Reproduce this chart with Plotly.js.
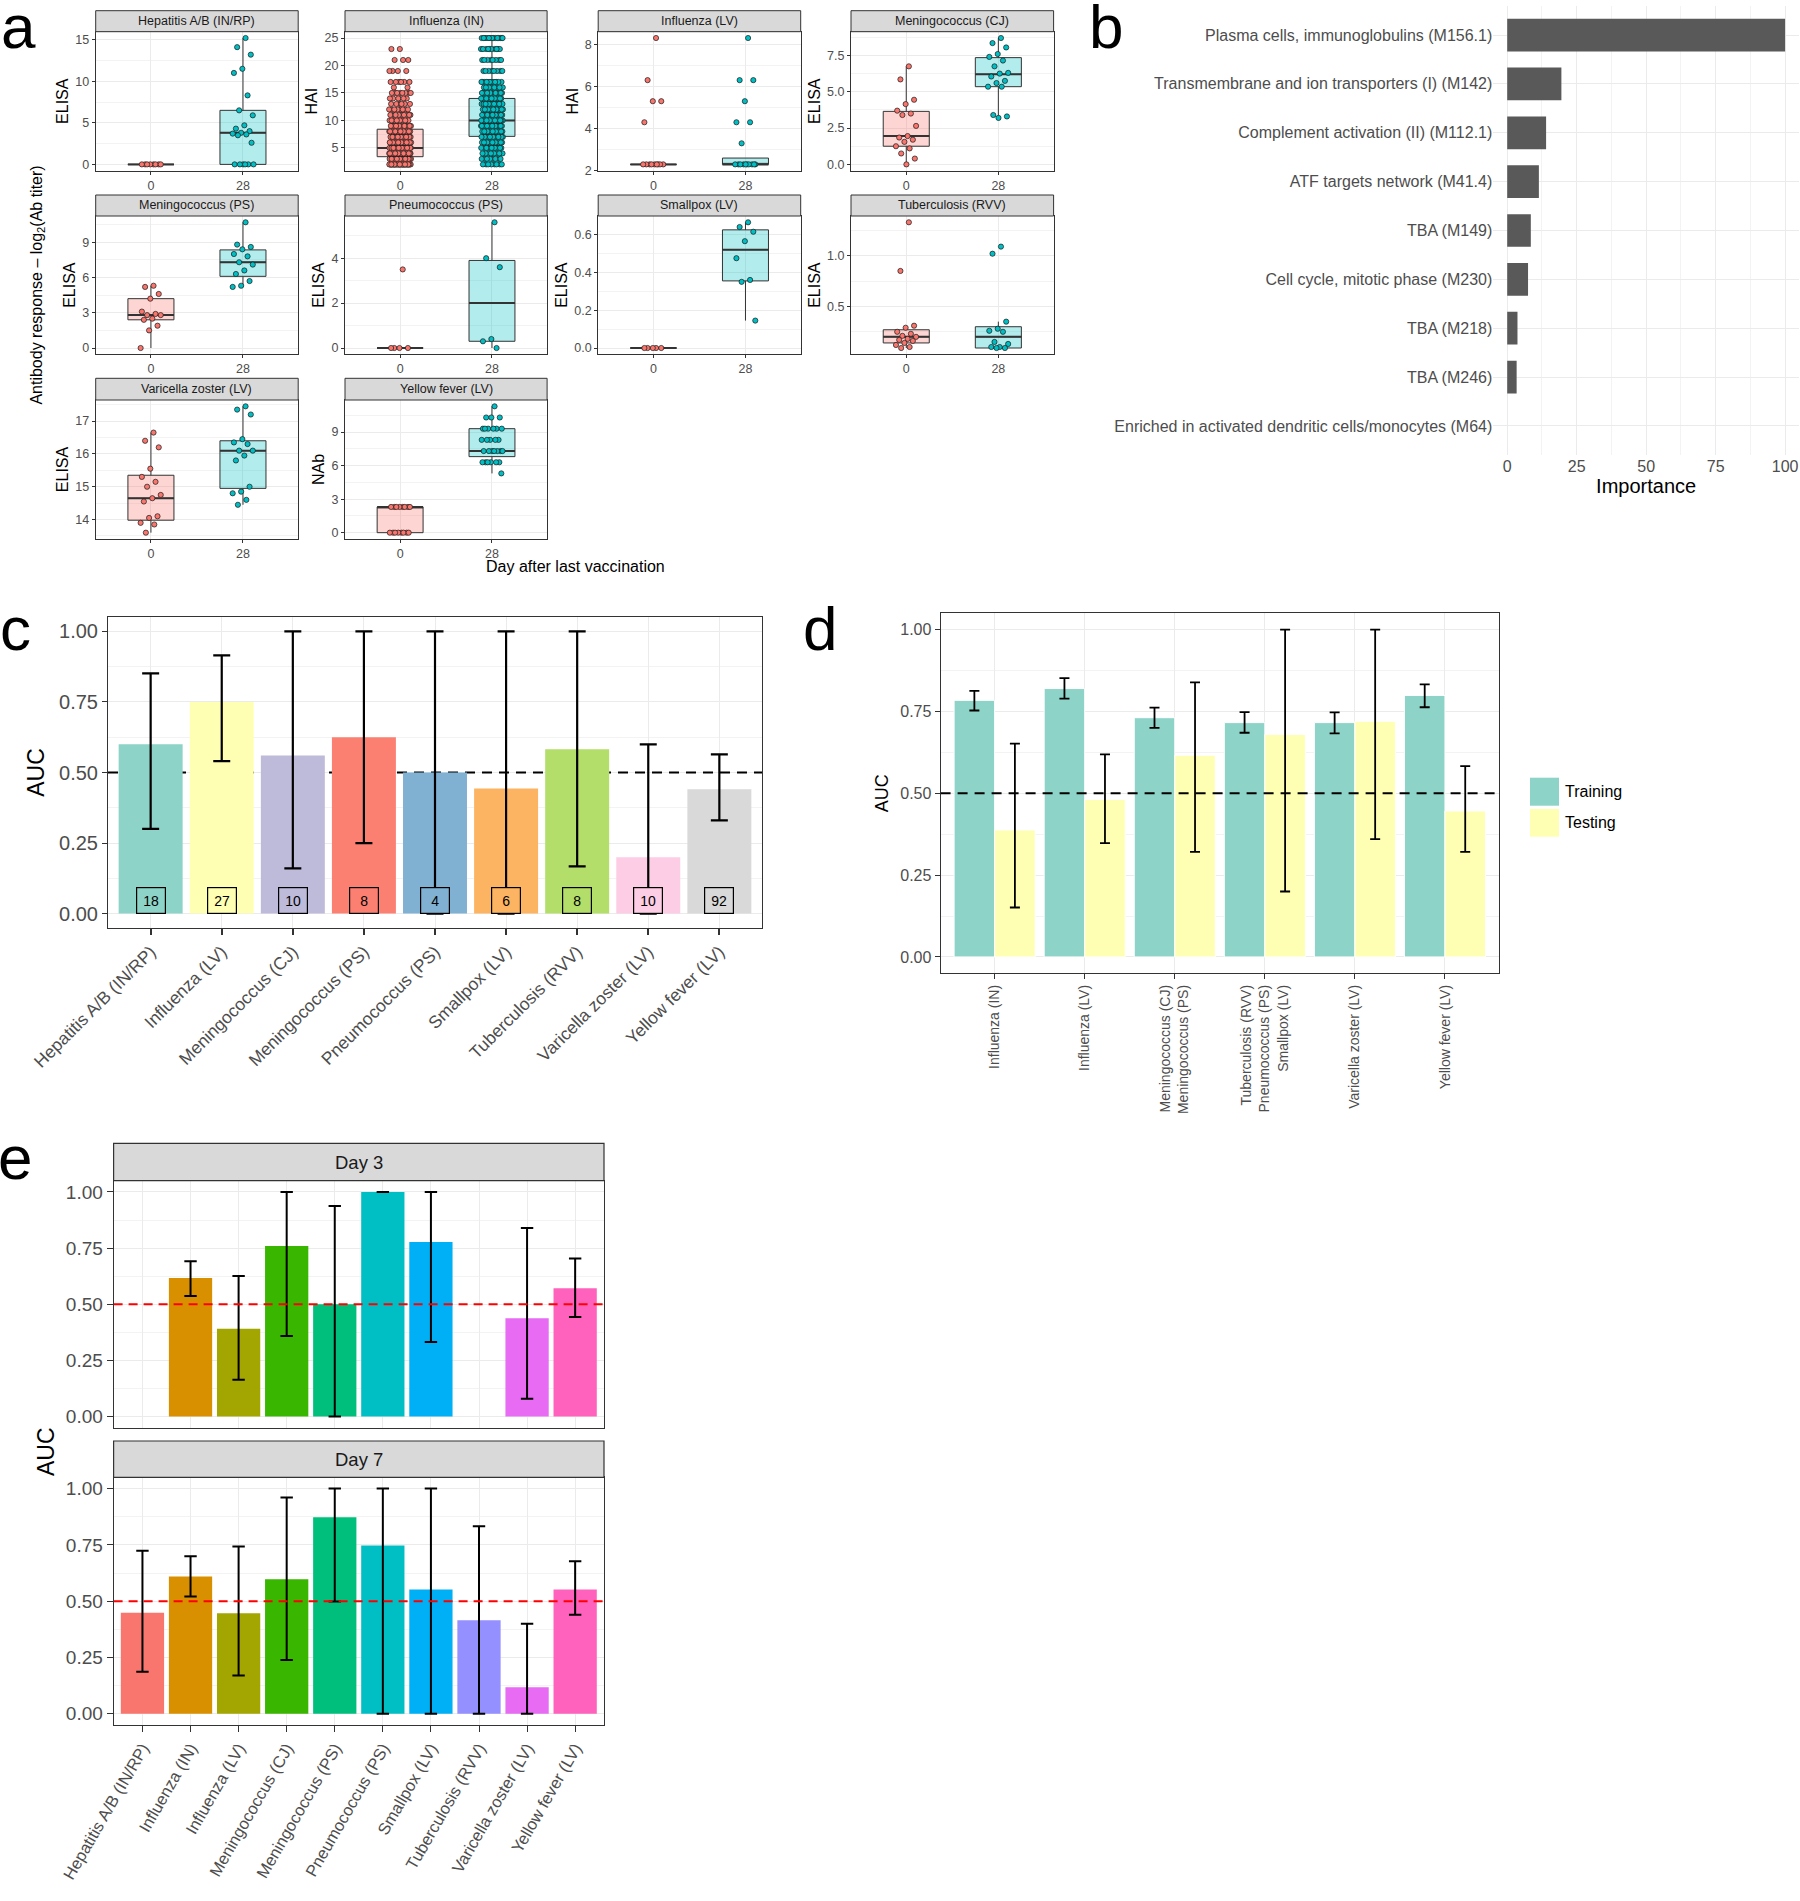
<!DOCTYPE html>
<html>
<head>
<meta charset="utf-8">
<script src="https://cdn.plot.ly/plotly-3.0.1.min.js"></script>
<style>body{margin:0;background:#fff}#chart{width:1800px;height:1901px}</style>
</head>
<body>
<div id="chart"></div>
<script>
// ================= DATA =================
// ---- panel a ----
const aPanels = ['Hepatitis A/B (IN/RP)', 'Influenza (IN)', 'Influenza (LV)', 'Meningococcus (CJ)',
  'Meningococcus (PS)', 'Pneumococcus (PS)', 'Smallpox (LV)', 'Tuberculosis (RVV)',
  'Varicella zoster (LV)', 'Yellow fever (LV)'];
const aAssay = ['ELISA', 'HAI', 'HAI', 'ELISA', 'ELISA', 'ELISA', 'ELISA', 'ELISA', 'ELISA', 'NAb'];
const aDayLabels = ['0', '28'];
// box stats: [lower whisker, q1, median, q3, upper whisker]
const aBox0 = [
  [0, 0, 0, 0, 0],
  [2, 3.4, 5, 8.4, 15],
  [2.3, 2.3, 2.3, 2.3, 2.3],
  [0, 1.25, 1.95, 3.65, 6.75],
  [0, 2.4, 2.8, 4.2, 5.3],
  [0, 0, 0, 0, 0],
  [0, 0, 0, 0, 0],
  [0.09, 0.14, 0.2, 0.27, 0.31],
  [13.6, 13.98, 14.65, 15.35, 16.65],
  [0, 0, 2.3, 2.3, 2.3]
];
const aBox28 = [
  [0, 0, 3.8, 6.5, 15.2],
  [2, 7.1, 10, 14, 25],
  [2.3, 2.3, 2.3, 2.6, 2.6],
  [3.2, 5.35, 6.2, 7.35, 8.7],
  [5.2, 6.1, 7.3, 8.35, 10.7],
  [0, 0.3, 2.0, 3.9, 5.6],
  [0.145, 0.355, 0.52, 0.625, 0.665],
  [0.09, 0.09, 0.2, 0.3, 0.35],
  [14.45, 14.95, 16.1, 16.4, 17.45],
  [5.3, 6.8, 7.3, 9.3, 11.3]
];
const hepD0 = [0, 0, 0, 0, 0, 0, 0, 0];
const hepD28 = [15.2, 14.1, 13.2, 11.5, 11.0, 8.3, 6.5, 5.9, 4.7, 4.3, 4.0, 3.8, 3.7, 3.6, 3.5, 2.6, 0, 0, 0, 0, 0, 0];
const fluINLevels = [2, 3, 4, 5, 6, 7, 8, 9, 10, 11, 12, 13, 14, 15, 16, 17, 19, 21, 23, 25];
const fluINCount0 = [40, 35, 30, 30, 22, 20, 18, 12, 12, 9, 8, 6, 5, 8, 2, 6, 4, 3, 2, 0];
const fluINCount28 = [8, 8, 10, 12, 14, 16, 18, 20, 20, 14, 14, 14, 14, 12, 8, 12, 8, 8, 10, 14];
const fluLV0 = [8.3, 6.3, 5.3, 5.3, 4.3, 2.3, 2.3, 2.3, 2.3, 2.3, 2.3, 2.3, 2.3, 2.3];
const fluLV28 = [8.3, 6.3, 6.3, 5.3, 4.3, 4.3, 3.3, 2.3, 2.3, 2.3, 2.3, 2.3, 2.3, 2.3, 2.3, 2.3, 2.3];
const menCJ0 = [6.75, 5.85, 4.45, 4.15, 3.7, 3.5, 3.4, 2.65, 1.95, 1.85, 1.7, 1.55, 1.25, 1.1, 0.75, 0.4, 0.0];
const menCJ28 = [8.7, 8.35, 8.05, 7.6, 7.4, 7.15, 6.75, 6.3, 6.25, 6.05, 5.75, 5.6, 5.35, 5.35, 3.4, 3.3, 3.2];
const menPS0 = [5.3, 5.2, 4.6, 4.2, 3.1, 2.9, 2.8, 2.8, 2.5, 2.4, 1.9, 1.5, 0];
const menPS28 = [10.7, 8.8, 8.6, 8.4, 8.0, 7.8, 7.3, 7.1, 6.6, 6.3, 5.7, 5.3, 5.2];
const pneuPS0 = [3.5, 0, 0, 0, 0];
const pneuPS28 = [5.6, 4.0, 3.6, 0.4, 0.3, 0];
const smallpox0 = [0, 0, 0, 0, 0];
const smallpox28 = [0.665, 0.64, 0.615, 0.565, 0.475, 0.36, 0.35, 0.145];
const tb0 = [1.33, 0.85, 0.31, 0.29, 0.25, 0.23, 0.21, 0.20, 0.18, 0.17, 0.16, 0.14, 0.12, 0.10, 0.09];
const tb28 = [1.09, 1.02, 0.35, 0.28, 0.26, 0.25, 0.15, 0.13, 0.10, 0.10, 0.09, 0.09];
const vz0 = [16.65, 16.4, 16.2, 15.55, 15.3, 15.15, 15.0, 14.75, 14.65, 14.55, 14.1, 14.05, 13.9, 13.85, 13.6];
const vz28 = [17.45, 17.35, 17.2, 16.45, 16.35, 16.3, 16.1, 16.1, 15.95, 15.8, 15.0, 14.85, 14.8, 14.6, 14.45];
const yf0 = [2.3, 2.3, 2.3, 2.3, 2.3, 2.3, 2.3, 2.3, 0, 0, 0, 0, 0, 0, 0, 0];
const yf28 = [11.3, 10.3, 10.3, 10.3, 9.3, 9.3, 9.3, 9.3, 9.3, 9.3, 8.3, 8.3, 8.3, 8.3, 8.3,
  7.3, 7.3, 7.3, 7.3, 7.3, 7.3, 7.3, 6.3, 6.3, 6.3, 6.3, 6.3, 6.3, 5.3];
const aDtick = [5, 5, 2, 2.5, 3, 2, 0.2, 0.5, 1, 3];
const aFmt = ['', '', '', '.1f', '', '', '.1f', '.1f', '', ''];

// ---- panel b ----
const bModules = ['Plasma cells, immunoglobulins (M156.1)', 'Transmembrane and ion transporters (I) (M142)',
  'Complement activation (II) (M112.1)', 'ATF targets network (M41.4)', 'TBA (M149)',
  'Cell cycle, mitotic phase (M230)', 'TBA (M218)', 'TBA (M246)',
  'Enriched in activated dendritic cells/monocytes (M64)'];
const bImportance = [100, 19.5, 14.0, 11.4, 8.5, 7.5, 3.7, 3.4, 0];

// ---- panel c ----
const cVaccines = ['Hepatitis A/B (IN/RP)', 'Influenza (LV)', 'Meningococcus (CJ)', 'Meningococcus (PS)',
  'Pneumococcus (PS)', 'Smallpox (LV)', 'Tuberculosis (RVV)', 'Varicella zoster (LV)', 'Yellow fever (LV)'];
const cAUC = [0.60, 0.75, 0.56, 0.625, 0.50, 0.443, 0.582, 0.20, 0.441];
const cUpper = [0.851, 0.915, 1.0, 1.0, 1.0, 1.0, 1.0, 0.60, 0.564];
const cLower = [0.30, 0.54, 0.16, 0.25, 0.0, 0.0, 0.167, 0.0, 0.33];
const cN = [18, 27, 10, 8, 4, 6, 8, 10, 92];
const cColors = ['#8DD3C7', '#FFFFB3', '#BEBADA', '#FB8072', '#80B1D3', '#FDB462', '#B3DE69', '#FCCDE5', '#D9D9D9'];

// ---- panel d ----
const dGroups = ['Influenza (IN)', 'Influenza (LV)', 'Meningococcus (CJ)<br>Meningococcus (PS)',
  'Tuberculosis (RVV)<br>Pneumococcus (PS)<br>Smallpox (LV)', 'Varicella zoster (LV)', 'Yellow fever (LV)'];
const dTrain = [0.784, 0.820, 0.731, 0.716, 0.716, 0.799];
const dTrainUp = [0.813, 0.852, 0.762, 0.748, 0.747, 0.833];
const dTrainLo = [0.753, 0.789, 0.700, 0.685, 0.683, 0.763];
const dTest = [0.388, 0.481, 0.616, 0.680, 0.720, 0.446];
const dTestUp = [0.652, 0.619, 0.839, 1.0, 1.0, 0.583];
const dTestLo = [0.151, 0.348, 0.321, 0.200, 0.360, 0.321];

// ---- panel e ----
const eVaccines = ['Hepatitis A/B (IN/RP)', 'Influenza (IN)', 'Influenza (LV)', 'Meningococcus (CJ)',
  'Meningococcus (PS)', 'Pneumococcus (PS)', 'Smallpox (LV)', 'Tuberculosis (RVV)', 'Varicella zoster (LV)', 'Yellow fever (LV)'];
const eColors = ['#F8766D', '#D89000', '#A3A500', '#39B600', '#00BF7D', '#00BFC4', '#00B0F6', '#9590FF', '#E76BF3', '#FF62BC'];
const eDay3 = [null, 0.617, 0.391, 0.759, 0.50, 1.0, 0.777, null, 0.437, 0.571];
const eDay3Up = [null, 0.691, 0.626, 1.0, 0.937, 1.0, 1.0, null, 0.839, 0.704];
const eDay3Lo = [null, 0.537, 0.163, 0.358, 0.0, 1.0, 0.332, null, 0.079, 0.443];
const eDay7 = [0.448, 0.609, 0.446, 0.597, 0.873, 0.747, 0.552, 0.415, 0.118, 0.552];
const eDay7Up = [0.724, 0.699, 0.743, 0.960, 1.0, 1.0, 1.0, 0.833, 0.400, 0.677];
const eDay7Lo = [0.186, 0.521, 0.170, 0.239, 0.499, 0.0, 0.0, 0.0, 0.0, 0.440];
const chanceAUC = 0.5;

// ================= HELPERS / STYLE =================
const W = 1800, H = 1901;
const xd = (a, b) => [a / W, b / W];
const yd = (t, b) => [1 - b / H, 1 - t / H];
const PX = v => v / W;
const PY = v => 1 - v / H;
const FONT = 'Liberation Sans, Arial, Helvetica, sans-serif';
const TICK = '#4D4D4D', BORDER = '#333333', GRID = '#EBEBEB', MINOR = '#F3F3F3';
const id = k => (k === 1 ? '' : String(k));
const expand = (levels, counts) => levels.flatMap((l, i) => Array(counts[i]).fill(l));
const jit = i => ((((i + 1) * 0.6180339887) % 1) - 0.5) * 0.24;
const errUp = (v, u) => v.map((x, i) => (x === null ? null : u[i] - x));
const errLo = (v, l) => v.map((x, i) => (x === null ? null : x - l[i]));

const aPts0 = [hepD0, expand(fluINLevels, fluINCount0), fluLV0, menCJ0, menPS0, pneuPS0, smallpox0, tb0, vz0, yf0];
const aPts28 = [hepD28, expand(fluINLevels, fluINCount28), fluLV28, menCJ28, menPS28, pneuPS28, smallpox28, tb28, vz28, yf28];
const aFill = ['rgba(248,118,109,0.3)', 'rgba(0,191,196,0.3)'];
const aDot = ['#F8766D', '#00BFC4'];

const traces = [];
const shapes = [];
const annotations = [];
const layout = {
  width: W, height: H, margin: {l: 0, r: 0, t: 0, b: 0},
  paper_bgcolor: '#fff', plot_bgcolor: '#fff', showlegend: false,
  font: {family: FONT, color: '#000'}, boxmode: 'overlay', barmode: 'overlay'
};

// ================= PANEL a =================
const aCols = [[95.7, 298.2], [345, 547.1], [598.2, 800.7], [851, 1053.6]];
const aRows = [[31.7, 170.7], [216, 354.3], [400, 539]];
const aStrips = [[10.7, 31.7], [195, 216], [378.3, 400]];

aPanels.forEach((name, p) => {
  const k = p + 1;
  const col = p < 4 ? p : (p < 8 ? p - 4 : p - 8);
  const row = p < 4 ? 0 : (p < 8 ? 1 : 2);
  const xa = 'x' + id(k), ya = 'y' + id(k);
  const boxes = [aBox0[p], aBox28[p]];
  const pts = [aPts0[p], aPts28[p]];
  boxes.forEach((b, d) => {
    traces.push({
      type: 'box', xaxis: xa, yaxis: ya, x: [d], orientation: 'v',
      lowerfence: [b[0]], q1: [b[1]], median: [b[2]], q3: [b[3]], upperfence: [b[4]],
      width: 0.5, fillcolor: aFill[d], line: {color: BORDER, width: 1}, whiskerwidth: 0,
      boxpoints: false, hoverinfo: 'skip'
    });
    traces.push({
      type: 'scatter', mode: 'lines', xaxis: xa, yaxis: ya,
      x: [d - 0.25, d + 0.25], y: [b[2], b[2]], line: {color: BORDER, width: 2}, hoverinfo: 'skip'
    });
  });
  pts.forEach((vals, d) => {
    traces.push({
      type: 'scatter', mode: 'markers', xaxis: xa, yaxis: ya,
      x: vals.map((v, i) => d + jit(i)), y: vals,
      marker: {size: 5.2, color: aDot[d], line: {color: '#1A1A1A', width: 0.7}}, hoverinfo: 'skip'
    });
  });
  const all = pts[0].concat(pts[1]);
  const mn = Math.min(...all), mx = Math.max(...all), sp = mx - mn;
  layout['xaxis' + id(k)] = {
    domain: xd(...aCols[col]), anchor: ya, range: [-0.6, 1.6],
    tickmode: 'array', tickvals: [0, 1], ticktext: aDayLabels,
    showgrid: true, gridcolor: GRID, zeroline: false,
    showline: true, mirror: true, linecolor: BORDER, linewidth: 1,
    ticks: 'outside', ticklen: 3, tickcolor: BORDER, tickfont: {size: 12.5, color: TICK}
  };
  layout['yaxis' + id(k)] = {
    domain: yd(...aRows[row]), anchor: xa, range: [mn - 0.05 * sp, mx + 0.05 * sp],
    tickmode: 'linear', tick0: 0, dtick: aDtick[p], tickformat: aFmt[p],
    minor: {tick0: 0, dtick: aDtick[p] / 2, showgrid: true, gridcolor: MINOR, gridwidth: 1},
    showgrid: true, gridcolor: GRID, zeroline: false,
    showline: true, mirror: true, linecolor: BORDER, linewidth: 1,
    ticks: 'outside', ticklen: 3, tickcolor: BORDER, tickfont: {size: 12.5, color: TICK},
    title: {text: aAssay[p], font: {size: 16, color: '#000'}, standoff: 2}
  };
  const [sl, sr] = aCols[col];
  const [st, sb] = aStrips[row];
  shapes.push({type: 'rect', xref: 'paper', yref: 'paper', x0: PX(sl), x1: PX(sr), y0: PY(sb), y1: PY(st),
    fillcolor: '#D9D9D9', line: {color: BORDER, width: 1}});
  annotations.push({xref: 'paper', yref: 'paper', x: PX((sl + sr) / 2), y: PY((st + sb) / 2),
    text: name, showarrow: false, xanchor: 'center', yanchor: 'middle', font: {size: 12.5, color: '#1A1A1A'}});
});
annotations.push({xref: 'paper', yref: 'paper', x: PX(37.6), y: PY(285), textangle: -90, showarrow: false,
  xanchor: 'center', yanchor: 'middle',
  text: 'Antibody response \u2013 log<sub>2</sub>(Ab titer)', font: {size: 16, color: '#000'}});
annotations.push({xref: 'paper', yref: 'paper', x: PX(575), y: PY(566), showarrow: false,
  xanchor: 'center', yanchor: 'middle',
  text: 'Day after last vaccination', font: {size: 16, color: '#000'}});

// ================= PANEL b =================
traces.push({
  type: 'bar', orientation: 'h', xaxis: 'x11', yaxis: 'y11', y: bModules, x: bImportance,
  width: 0.67, marker: {color: '#595959'}, hoverinfo: 'skip'
});
layout.xaxis11 = {
  domain: xd(1493.3, 1799), anchor: 'y11', range: [-5, 105],
  tickmode: 'linear', tick0: 0, dtick: 25,
  minor: {tick0: 0, dtick: 12.5, showgrid: true, gridcolor: MINOR},
  showgrid: true, gridcolor: GRID, zeroline: false, showline: false, ticks: '',
  tickfont: {size: 16, color: TICK},
  title: {text: 'Importance', font: {size: 20, color: '#000'}, standoff: 4}
};
layout.yaxis11 = {
  domain: yd(5.7, 455.3), anchor: 'x11', type: 'category', categoryorder: 'array',
  categoryarray: bModules.slice().reverse(), range: [-0.6, 8.6],
  showgrid: true, gridcolor: GRID, zeroline: false, showline: false, ticks: '',
  tickfont: {size: 16, color: TICK}
};

// ================= PANEL c =================
const cIdx = cVaccines.map((_, i) => i);
const cRange = [-0.6, cVaccines.length - 0.4];
// dashed chance line in base subplot (under the bars, over the grid)
traces.push({
  type: 'scatter', mode: 'lines', xaxis: 'x12', yaxis: 'y12', x: cRange, y: [chanceAUC, chanceAUC],
  line: {color: '#000', width: 2.2, dash: '10px,7px'}, hoverinfo: 'skip', cliponaxis: true
});
// bars in overlay subplot
traces.push({
  type: 'bar', xaxis: 'x12', yaxis: 'y16', x: cIdx, y: cAUC, width: 0.9,
  marker: {color: cColors, line: {width: 0}}, hoverinfo: 'skip',
  error_y: {type: 'data', symmetric: false, array: errUp(cAUC, cUpper), arrayminus: errLo(cAUC, cLower),
    color: '#000', thickness: 2.2, width: 8.5}
});
layout.xaxis12 = {
  domain: xd(108, 762), anchor: 'y12', range: cRange,
  tickmode: 'array', tickvals: cIdx, ticktext: cVaccines,
  tickangle: -45, tickfont: {size: 17.5, color: TICK},
  ticks: 'outside', ticklen: 6, tickwidth: 1.5, tickcolor: BORDER,
  showgrid: true, gridcolor: GRID, zeroline: false, showline: true, mirror: true, linecolor: BORDER, linewidth: 1
};
layout.yaxis12 = {
  domain: yd(617.3, 927.7), anchor: 'x12', range: [-0.05, 1.05],
  tickmode: 'linear', tick0: 0, dtick: 0.25, tickformat: '.2f',
  minor: {tick0: 0, dtick: 0.125, showgrid: true, gridcolor: MINOR},
  showgrid: true, gridcolor: GRID, zeroline: false, showline: true, mirror: true, linecolor: BORDER, linewidth: 1,
  ticks: 'outside', ticklen: 5, tickcolor: BORDER, tickfont: {size: 20, color: TICK},
  title: {text: 'AUC', font: {size: 23, color: '#000'}, standoff: 8}
};
layout.yaxis16 = {
  overlaying: 'y12', anchor: 'x12', range: [-0.05, 1.05],
  showgrid: false, showticklabels: false, ticks: '', showline: false, zeroline: false
};
cN.forEach((n, i) => {
  annotations.push({xref: 'x12', yref: 'y12', x: cIdx[i], y: 0.047, text: String(n), showarrow: false,
    bgcolor: cColors[i], bordercolor: '#000', borderwidth: 1.2, borderpad: 3, width: 22, height: 19,
    font: {size: 14, color: '#000'}});
});

// ================= PANEL d =================
traces.push({
  type: 'bar', name: 'Training', xaxis: 'x13', yaxis: 'y13', x: dGroups, y: dTrain,
  width: 0.45, offset: -0.45, marker: {color: '#8DD3C7', line: {color: '#fff', width: 1}}, hoverinfo: 'skip',
  error_y: {type: 'data', symmetric: false, array: errUp(dTrain, dTrainUp), arrayminus: errLo(dTrain, dTrainLo),
    color: '#000', thickness: 1.8, width: 5}
});
traces.push({
  type: 'bar', name: 'Testing', xaxis: 'x13', yaxis: 'y13', x: dGroups, y: dTest,
  width: 0.45, offset: 0, marker: {color: '#FFFFB3', line: {color: '#fff', width: 1}}, hoverinfo: 'skip',
  error_y: {type: 'data', symmetric: false, array: errUp(dTest, dTestUp), arrayminus: errLo(dTest, dTestLo),
    color: '#000', thickness: 1.8, width: 5}
});
layout.xaxis13 = {
  domain: xd(940.6, 1499), anchor: 'y13', type: 'category', categoryorder: 'array', categoryarray: dGroups,
  range: [-0.6, 5.6], tickangle: -90, tickfont: {size: 14, color: TICK},
  ticks: 'outside', ticklen: 5, tickcolor: BORDER,
  showgrid: true, gridcolor: GRID, zeroline: false, showline: true, mirror: true, linecolor: BORDER, linewidth: 1
};
layout.yaxis13 = {
  domain: yd(613.3, 973.3), anchor: 'x13', range: [-0.05, 1.05],
  tickmode: 'linear', tick0: 0, dtick: 0.25, tickformat: '.2f',
  minor: {tick0: 0, dtick: 0.125, showgrid: true, gridcolor: MINOR},
  showgrid: true, gridcolor: GRID, zeroline: false, showline: true, mirror: true, linecolor: BORDER, linewidth: 1,
  ticks: 'outside', ticklen: 5, tickcolor: BORDER, tickfont: {size: 16, color: TICK},
  title: {text: 'AUC', font: {size: 18, color: '#000'}, standoff: 6}
};
shapes.push({type: 'line', xref: 'x13', yref: 'y13', x0: -0.6, x1: 5.6, y0: chanceAUC, y1: chanceAUC,
  layer: 'above', line: {color: '#000', width: 2, dash: '10px,7px'}});
// legend
[['Training', '#8DD3C7', 777.7, 805.7], ['Testing', '#FFFFB3', 809, 836.7]].forEach(([lab, col, t, b]) => {
  shapes.push({type: 'rect', xref: 'paper', yref: 'paper', x0: PX(1530), x1: PX(1559), y0: PY(b), y1: PY(t),
    fillcolor: col, line: {width: 0}});
  annotations.push({xref: 'paper', yref: 'paper', x: PX(1563), y: PY((t + b) / 2), xanchor: 'left', yanchor: 'middle',
    text: lab, showarrow: false, font: {size: 16, color: '#000'}});
});

// ================= PANEL e =================
const eX = [113.6, 604];
const ePanels = [
  {k: 14, label: 'Day 3', vals: eDay3, up: eDay3Up, lo: eDay3Lo, strip: [1143.3, 1180.7], plot: [1180.7, 1427.7], labels: false},
  {k: 15, label: 'Day 7', vals: eDay7, up: eDay7Up, lo: eDay7Lo, strip: [1441, 1477.3], plot: [1477.3, 1725], labels: true}
];
ePanels.forEach(P => {
  const xa = 'x' + P.k, ya = 'y' + P.k;
  traces.push({
    type: 'bar', xaxis: xa, yaxis: ya, x: eVaccines, y: P.vals, width: 0.9,
    marker: {color: eColors, line: {width: 0}}, hoverinfo: 'skip',
    error_y: {type: 'data', symmetric: false, array: errUp(P.vals, P.up), arrayminus: errLo(P.vals, P.lo),
      color: '#000', thickness: 2, width: 6.2}
  });
  layout['xaxis' + P.k] = {
    domain: xd(...eX), anchor: ya, type: 'category', categoryorder: 'array', categoryarray: eVaccines,
    range: [-0.6, 9.6], showticklabels: P.labels, tickangle: -60, tickfont: {size: 16.5, color: TICK},
    ticks: P.labels ? 'outside' : '', ticklen: 6, tickwidth: 1.3, tickcolor: BORDER,
    showgrid: true, gridcolor: GRID, zeroline: false, showline: true, mirror: true, linecolor: BORDER, linewidth: 1
  };
  layout['yaxis' + P.k] = {
    domain: yd(...P.plot), anchor: xa, range: [-0.05, 1.05],
    tickmode: 'linear', tick0: 0, dtick: 0.25, tickformat: '.2f',
    minor: {tick0: 0, dtick: 0.125, showgrid: true, gridcolor: MINOR},
    showgrid: true, gridcolor: GRID, zeroline: false, showline: true, mirror: true, linecolor: BORDER, linewidth: 1,
    ticks: 'outside', ticklen: 6, tickcolor: BORDER, tickfont: {size: 19, color: TICK}
  };
  shapes.push({type: 'line', xref: xa, yref: ya, x0: -0.6, x1: 9.6, y0: chanceAUC, y1: chanceAUC,
    layer: 'above', line: {color: '#FF0000', width: 2, dash: '9px,6px'}});
  shapes.push({type: 'rect', xref: 'paper', yref: 'paper', x0: PX(eX[0]), x1: PX(eX[1]), y0: PY(P.strip[1]), y1: PY(P.strip[0]),
    fillcolor: '#D9D9D9', line: {color: BORDER, width: 1.2}});
  annotations.push({xref: 'paper', yref: 'paper', x: PX((eX[0] + eX[1]) / 2), y: PY((P.strip[0] + P.strip[1]) / 2),
    xanchor: 'center', yanchor: 'middle',
    text: P.label, showarrow: false, font: {size: 18.5, color: '#1A1A1A'}});
});
annotations.push({xref: 'paper', yref: 'paper', x: PX(46), y: PY(1452), textangle: -90, showarrow: false,
  xanchor: 'center', yanchor: 'middle', text: 'AUC', font: {size: 23, color: '#000'}});

// ================= PANEL LETTERS =================
[['a', 18, 27], ['b', 1106, 27], ['c', 15, 629], ['d', 820, 629], ['e', 15, 1157]].forEach(([t, x, y]) => {
  annotations.push({xref: 'paper', yref: 'paper', x: PX(x), y: PY(y), text: t, showarrow: false,
    xanchor: 'center', yanchor: 'middle', font: {size: 62, color: '#000'}});
});

layout.shapes = shapes;
layout.annotations = annotations;
Plotly.newPlot('chart', traces, layout, {displayModeBar: false, responsive: false});
</script>
</body>
</html>
